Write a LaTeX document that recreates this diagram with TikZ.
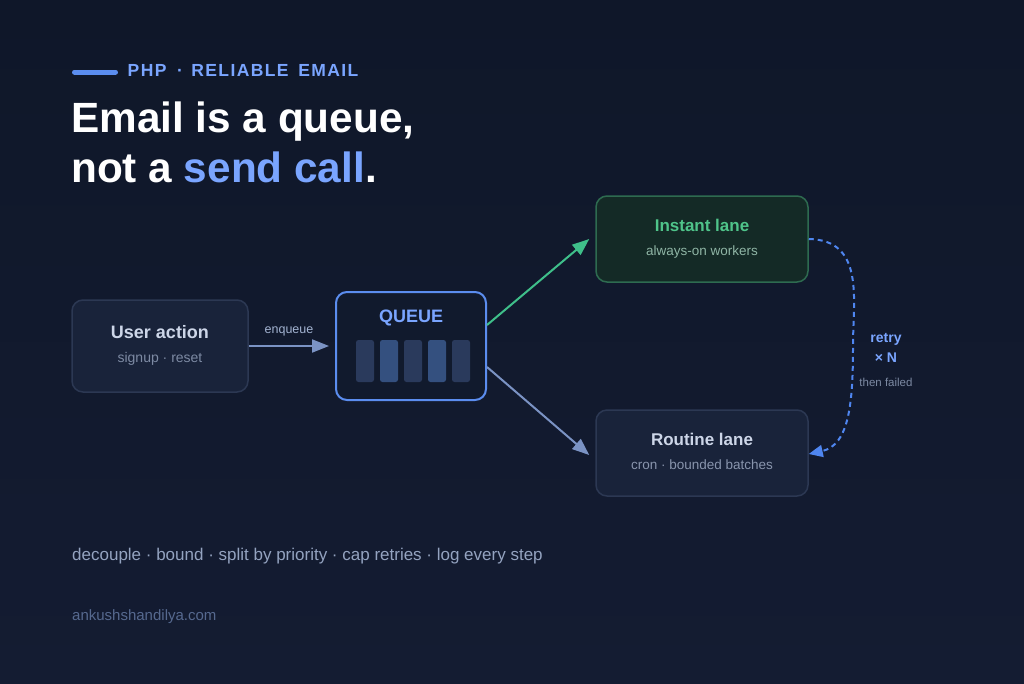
\documentclass[tikz,border=0pt]{standalone}
\usepackage{fontspec}
\setmainfont{Liberation Sans}
\usetikzlibrary{arrows.meta,calc}
\definecolor{bgA}{HTML}{0F1729}
\definecolor{bgB}{HTML}{141C32}
\definecolor{accent}{HTML}{5B8DEF}
\definecolor{accenttxt}{HTML}{7AA5FF}
\definecolor{boxfill}{HTML}{19233A}
\definecolor{boxline}{HTML}{2C3853}
\definecolor{qfill}{HTML}{111A2D}
\definecolor{barA}{HTML}{2A3A5C}
\definecolor{barB}{HTML}{34507F}
\definecolor{greenfill}{HTML}{142A26}
\definecolor{greenline}{HTML}{2E6B50}
\definecolor{greentxt}{HTML}{4FC48A}
\definecolor{greensub}{HTML}{8FB5A5}
\definecolor{greenarrow}{HTML}{3FBF8A}
\definecolor{titletxt}{HTML}{CDD6E8}
\definecolor{subtxt}{HTML}{7D8AA3}
\definecolor{arrowc}{HTML}{7B93C4}
\definecolor{labeltxt}{HTML}{A3B3D1}
\definecolor{tagtxt}{HTML}{94A3C0}
\definecolor{sitetxt}{HTML}{56698F}
\definecolor{dashc}{HTML}{4F86F0}
\tikzset{
  px/.style={x=1pt,y=-1pt},
  card/.style={draw=boxline,fill=boxfill,line width=1.5pt,rounded corners=11pt,inner sep=0pt},
  cardtitle/.style={font=\fontsize{18}{20}\selectfont\bfseries,text=titletxt,inner sep=0pt,anchor=base},
  cardsub/.style={font=\fontsize{14}{16}\selectfont,text=subtxt,inner sep=0pt,anchor=base},
  qbar/.style={fill=#1,rounded corners=2.5pt,minimum width=18pt,minimum height=42pt,inner sep=0pt},
  arr/.style={line width=2pt,-{Triangle[length=17pt,width=13pt]}},
}
\begin{document}
\begin{tikzpicture}[px]
\useasboundingbox (0,0) rectangle (1024,683);
\shade[top color=bgA,bottom color=bgB] (0,0) rectangle (1024,683);
% header
\draw[accent,line width=5pt,line cap=round] (74.5,72) -- (115.5,72);
\node[anchor=base west,inner sep=0pt,text=accenttxt,font=\fontsize{17.5}{19}\selectfont\bfseries\addfontfeature{LetterSpace=8}] (kicker) at (127.5,76.5) {PHP\hspace{4.5pt} · \hspace{2pt}RELIABLE\hspace{3.5pt} EMAIL};
\node[anchor=base west,inner sep=0pt,text=white,font=\fontsize{42.3}{48}\selectfont\bfseries] (title1) at (71,132) {Email is a queue,};
\node[anchor=base west,inner sep=0pt,text=white,font=\fontsize{42.3}{48}\selectfont\bfseries] (title2) at (71,182) {not a \textcolor{accenttxt}{send call}.};
% user action
\node[card,minimum width=176pt,minimum height=92pt] (user) at (160,346) {};
\node[cardtitle] (usert) at (160,338) {User action};
\node[cardsub] (users) at (160,362) {signup · reset};
% queue
\node[draw=accent,fill=qfill,line width=2pt,rounded corners=11pt,minimum width=150pt,minimum height=108pt,inner sep=0pt] (queue) at (411,346) {};
\node[cardtitle,text=accenttxt] (queuet) at (411,322) {QUEUE};
\node[qbar=barA] (b1) at (365,361) {};
\node[qbar=barB] (b2) at (389,361) {};
\node[qbar=barA] (b3) at (413,361) {};
\node[qbar=barB] (b4) at (437,361) {};
\node[qbar=barA] (b5) at (461,361) {};
% enqueue arrow
\draw[arr,arrowc] (user.east) -- ([xshift=-6pt]queue.west);
\node[anchor=base,inner sep=0pt,text=labeltxt,font=\fontsize{12.5}{14}\selectfont] (enq) at (289,333) {enqueue};
% instant lane
\node[card,draw=greenline,fill=greenfill,minimum width=212pt,minimum height=86pt] (instant) at (702,239) {};
\node[cardtitle,text=greentxt,font=\fontsize{17}{20}\selectfont\bfseries] (instt) at (702,231) {Instant lane};
\node[cardsub,text=greensub,font=\fontsize{13.5}{16}\selectfont] (insts) at (702,255) {always-on workers};
% routine lane
\node[card,minimum width=212pt,minimum height=86pt] (routine) at (702,453) {};
\node[cardtitle,font=\fontsize{17}{20}\selectfont\bfseries] (rout) at (702,445) {Routine lane};
\node[cardsub,text=subtxt!85!titletxt,font=\fontsize{13.5}{16}\selectfont] (routs) at (702,469) {cron · bounded batches};
% lane arrows
\draw[arr,greenarrow] ($(queue.east)+(0,-21)$) -- ([xshift=-6pt]instant.west);
\draw[arr,arrowc] ($(queue.east)+(0,21)$) -- ([xshift=-6pt,yshift=-2pt]routine.west);
% retry loop
\draw[dashc,line width=2pt,dash pattern=on 5pt off 4pt,-{Triangle[length=14pt,width=12pt]}]
  (instant.east) .. controls (865,240) and (853,300) .. (853,345)
  .. controls (853,400) and (850,445) .. ([yshift=-1pt]routine.east);
\node[anchor=base,inner sep=0pt,text=accenttxt,font=\fontsize{14}{16}\selectfont\bfseries] (retry) at (886,342) {retry};
\node[anchor=base,inner sep=0pt,text=accenttxt,font=\fontsize{14}{16}\selectfont\bfseries] (timesn) at (886,362) {× N};
\node[anchor=base,inner sep=0pt,text=subtxt,font=\fontsize{11.5}{13}\selectfont] (failed) at (886,386) {then failed};
% footer
\node[anchor=base west,inner sep=0pt,text=tagtxt,font=\fontsize{17}{20}\selectfont] (tag) at (72,560) {decouple · bound · split by priority · cap retries · log every step};
\node[anchor=base west,inner sep=0pt,text=sitetxt,font=\fontsize{15}{18}\selectfont] (site) at (72,620) {ankushshandilya.com};
\end{tikzpicture}
\end{document}
